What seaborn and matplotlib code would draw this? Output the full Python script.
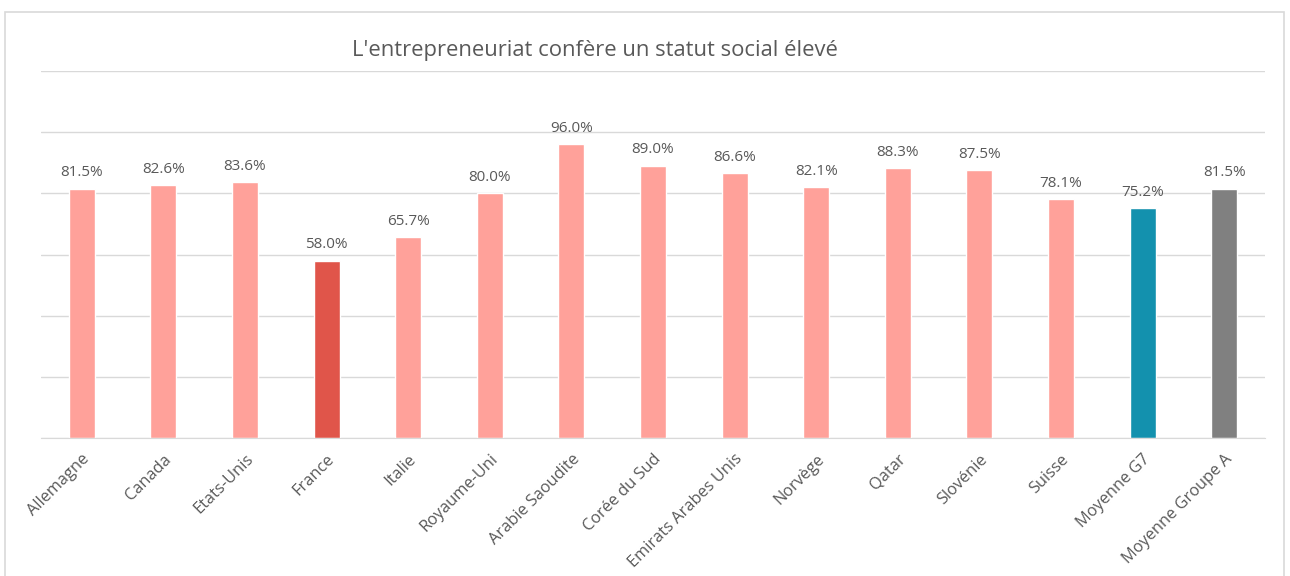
import pandas as pd
import seaborn as sns
import matplotlib.pyplot as plt
from matplotlib.patches import Rectangle

# Data
pays = ["Allemagne", "Canada", "Etats-Unis", "France", "Italie", "Royaume-Uni",
        "Arabie Saoudite", "Corée du Sud", "Emirats Arabes Unis", "Norvège",
        "Qatar", "Slovénie", "Suisse", "Moyenne G7", "Moyenne Groupe A"]
valeurs = [81.5, 82.6, 83.6, 58.0, 65.7, 80.0, 96.0, 89.0, 86.6, 82.1,
           88.3, 87.5, 78.1, 75.2, 81.5]
couleurs = ["#FFA19A"] * 3 + ["#E0554A"] + ["#FFA19A"] * 9 + ["#1391AE", "#808080"]

df = pd.DataFrame({"pays": pays, "valeur": valeurs})

sns.set_style("white")
plt.rcParams['font.family'] = ['Open Sans', 'DejaVu Sans']

fig = plt.figure(figsize=(12.9, 5.76), dpi=100)
ax = fig.add_axes([0.0318, 0.2396, 0.9488, 0.6371])

sns.barplot(data=df, x="pays", y="valeur", hue="pays", palette=couleurs,
            width=0.32, legend=False, ax=ax, saturation=1)

ax.set_ylim(0, 120)
ax.set_xlim(-0.5, len(pays) - 0.5)
ax.set_yticks(range(0, 121, 20))
ax.yaxis.grid(True, color="#D9D9D9", linewidth=1)
ax.set_axisbelow(True)
ax.tick_params(axis="y", left=False, labelleft=False)
ax.tick_params(axis="x", bottom=False, pad=6)
for s in ["top", "right", "left"]:
    ax.spines[s].set_visible(False)
ax.spines["bottom"].set_color("#D9D9D9")
ax.set_xlabel("")
ax.set_ylabel("")

plt.setp(ax.get_xticklabels(), rotation=45, ha="right", rotation_mode="anchor",
         fontsize=11.8, color="#595959")

for i, v in enumerate(valeurs):
    ax.annotate(f"{v:.1f}%", (i, v), xytext=(0, 6), textcoords="offset points",
                ha="center", va="bottom", fontsize=11, color="#595959")

fig.text(0.461, 0.913, "L'entrepreneuriat confère un statut social élevé",
         ha="center", va="center", fontsize=15.8, color="#595959")

# light frame around the chart area
fig.patches.append(Rectangle((0.004, -0.05), 0.991, 1.03, transform=fig.transFigure,
                             fill=False, edgecolor="#D9D9D9", linewidth=1.2))

plt.savefig("out.png", dpi=100)
